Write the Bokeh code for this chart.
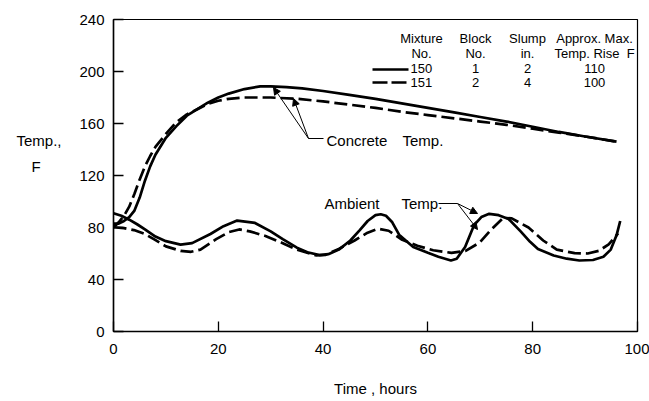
from bokeh.plotting import figure
from bokeh.models import Range1d, FixedTicker, Label, Arrow, NormalHead, LinearAxis
from bokeh.embed import file_html
from bokeh.resources import INLINE

# ---------------- data ----------------
x_ticks = [0, 20, 40, 60, 80, 100]
y_ticks = [0, 40, 80, 120, 160, 200, 240]

# Mixture 150 (solid) concrete temperature
t_150_conc = [0, 1, 2, 3, 4, 5, 6, 7, 8, 10, 12, 14, 16, 18, 20, 22, 25, 28, 30, 33,
              36, 40, 45, 50, 55, 60, 65, 70, 75, 80, 85, 90, 96]
T_150_conc = [83, 83, 85, 88, 93, 103, 116, 127, 136, 149, 158, 166, 171, 176, 180, 183,
              186.5, 188.5, 188.5, 188, 187, 185, 182, 179, 175.5, 172, 168.5, 165, 161.5,
              157.5, 153.5, 150, 146]

# Mixture 151 (dashed) concrete temperature
t_151_conc = [0, 1, 2, 3, 4, 5, 6, 7, 8, 10, 12, 14, 16, 18, 20, 22, 25, 30, 35, 40,
              45, 50, 55, 60, 65, 70, 75, 80, 85, 90, 96]
T_151_conc = [80, 84, 89, 96, 106, 117, 127, 135, 142, 152, 161, 167, 171, 175, 177.5,
              179, 180, 180, 179, 177, 174.5, 172, 169, 166.5, 164, 161.5, 159, 156, 153,
              150, 146]

# Mixture 150 (solid) ambient temperature
t_150_amb = [0, 1.5, 3, 4.5, 6, 8, 10, 12.8, 15, 18.5, 21, 23.6, 27, 30, 32.3, 35, 37,
             39.3, 41, 43, 45.2, 47, 48.5, 50, 51, 52, 53.2, 54.5, 57.2, 60, 62, 64.4,
             65.5, 67.1, 68.8, 70.2, 71.7, 73.5, 75.4, 77.7, 79.5, 81, 84, 86.5, 88.9,
             91.5, 93.5, 94.9, 96, 96.7]
T_150_amb = [91, 89, 86, 82.5, 78.5, 73, 69.5, 66.8, 68, 75, 81, 85.3, 83.5, 77, 71, 64.5,
             61, 58.8, 59.5, 63, 70, 78, 85, 89.5, 90.2, 89, 84, 74.5, 65, 60.5, 57.5,
             54.6, 56, 65, 81.8, 88, 90.5, 89.5, 86.5, 77, 69, 63.5, 58.5, 56, 54.6, 55,
             57.5, 63, 74, 85]

# Mixture 151 (dashed) ambient temperature
t_151_amb = [0, 2, 3.9, 6, 7.7, 10, 12.8, 14.8, 16.6, 19.6, 22, 24, 26, 29, 32, 35,
             38.6, 40.5, 43, 46, 48.5, 50.5, 52.5, 55.1, 58, 61, 64.5, 67.2, 69.9, 72,
             74.4, 76, 79.2, 82, 84.6, 88, 90.5, 92.6, 94.5, 96.3]
T_151_amb = [80.2, 79.5, 78, 75, 71, 65.5, 62, 61.3, 63, 71, 76.5, 78.5, 77, 73.5, 68.5,
             63, 58.6, 59, 63.5, 70, 76, 79, 77.5, 70.5, 66, 62.5, 60.5, 62, 68.5, 78,
             87.5, 87, 80, 70, 63, 60.3, 60, 62, 67, 75.5]

legend_cols = [["Mixture", "No.", "150", "151"],
               ["Block", "No.", "1", "2"],
               ["Slump", "in.", "2", "4"],
               ["Approx. Max.", "Temp. Rise\u00a0\u00a0F", "110", "100"]]

x_title = "Time , hours"
y_title = ["Temp.,", "F"]

# ---------------- layout helpers (pixel -> data) ----------------
X0, X1 = 113.0, 637.0
Y0, Y1 = 331.0, 19.0


def tx(px):
    return (px - X0) / (X1 - X0) * 100.0


def ty(py):
    return (Y0 - py) / (Y0 - Y1) * 240.0


FONT = "Liberation Sans"

p = figure(width=649, height=401, output_backend="svg", toolbar_location=None,
           x_range=Range1d(0, 100), y_range=Range1d(0, 240),
           min_border_left=113, min_border_right=12, min_border_top=19,
           min_border_bottom=70)
p.background_fill_color = "white"
p.border_fill_color = "white"
p.grid.visible = False
p.outline_line_color = "black"
p.outline_line_width = 1.2

for ax in (p.xaxis[0], p.yaxis[0]):
    ax.axis_line_color = "black"
    ax.axis_line_width = 1.5
    ax.major_tick_in = 10
    ax.major_tick_out = 0
    ax.minor_tick_in = 0
    ax.minor_tick_out = 0
    ax.major_tick_line_width = 1.3
    ax.major_label_text_font = FONT
    ax.major_label_text_font_size = "15px"
    ax.major_label_text_color = "black"

p.xaxis[0].ticker = FixedTicker(ticks=x_ticks)
p.yaxis[0].ticker = FixedTicker(ticks=y_ticks)
p.xaxis[0].major_label_standoff = 12
p.yaxis[0].major_label_standoff = 9

# x title as axis label
p.xaxis[0].axis_label = x_title
p.xaxis[0].axis_label_text_font = FONT
p.xaxis[0].axis_label_text_font_size = "15px"
p.xaxis[0].axis_label_text_font_style = "normal"
p.xaxis[0].axis_label_text_color = "black"
p.xaxis[0].axis_label_standoff = 23

# y title drawn as the labels of an extra, bare left axis
title_ax = LinearAxis(
    ticker=FixedTicker(ticks=[147, 127]),
    major_label_overrides={147: y_title[0], 127: y_title[1] + "\u00a0" * 5},
    axis_line_color=None, major_tick_line_color=None, minor_tick_line_color=None,
    major_tick_in=0, major_tick_out=0, minor_tick_in=0, minor_tick_out=0,
    major_label_standoff=15, major_label_text_font=FONT,
    major_label_text_font_size="15px", major_label_text_color="black")
p.add_layout(title_ax, "left")

# curves
p.line(t_150_conc, T_150_conc, line_color="black", line_width=2.7)
p.line(t_151_conc, T_151_conc, line_color="black", line_width=2.7, line_dash="13 5")
p.line(t_150_amb, T_150_amb, line_color="black", line_width=2.7)
p.line(t_151_amb, T_151_amb, line_color="black", line_width=2.7, line_dash="13 5")


def lab(text, px, py, size="15px", align="left"):
    p.add_layout(Label(x=tx(px), y=ty(py), text=text, text_font=FONT,
                       text_font_size=size, text_align=align,
                       text_baseline="middle", text_color="black"))


# annotations
lab("Concrete", 326, 140)
lab("Temp.", 402, 140)
lab("Ambient", 324, 203)
lab("Temp.", 401, 203)


def arrow(x0, y0, x1, y1, head=True):
    end = NormalHead(size=7, fill_color="black", line_color="black") if head else None
    p.add_layout(Arrow(end=end, x_start=tx(x0), y_start=ty(y0), x_end=tx(x1),
                       y_end=ty(y1), line_color="black", line_width=1))


arrow(323, 138, 308, 138, head=False)
arrow(308, 138, 273, 87)
arrow(308, 138, 293, 98)
arrow(438, 203, 457, 203, head=False)
arrow(457, 203, 477, 213)
arrow(457, 203, 477, 229)

# legend table
col_x = [421, 475, 527, 594]
row_y = [38, 53, 68, 82]
for cx, col in zip(col_x, legend_cols):
    for ry, txt in zip(row_y, col):
        if txt in ("150", "151"):
            lab(txt, 410, ry, size="13px")
        else:
            lab(txt, cx, ry, size="13px", align="center")

p.line([tx(372), tx(408)], [ty(69), ty(69)], line_color="black", line_width=2.4)
p.line([tx(372), tx(408)], [ty(82), ty(82)], line_color="black", line_width=2.4,
       line_dash="15 4")

open("out.html", "w").write(file_html(p, INLINE))
